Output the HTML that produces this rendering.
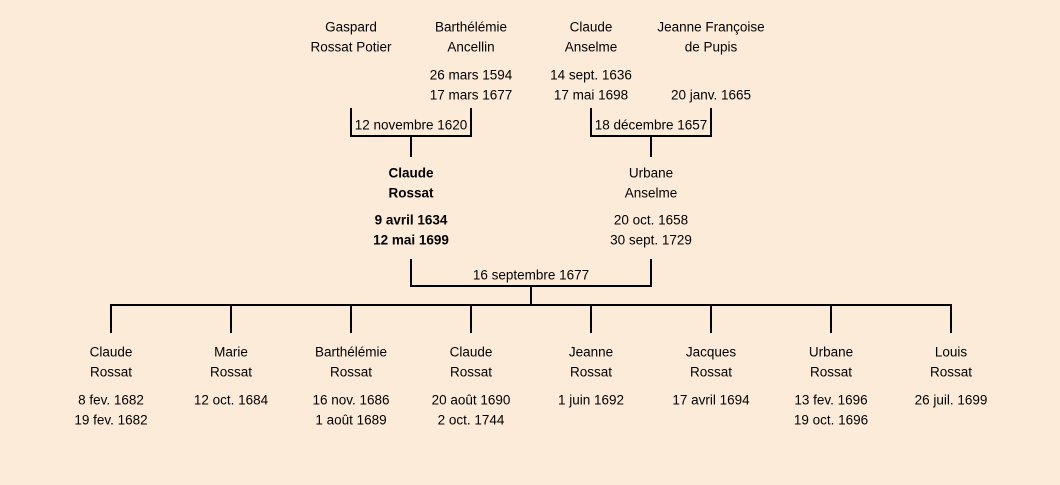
<!DOCTYPE html>
<html><head><meta charset="utf-8"><style>
html,body{margin:0;padding:0;background:#fcebd9;}
svg{display:block;}
text{font-family:"Liberation Sans","DejaVu Sans",sans-serif;font-size:13.5px;fill:#000;text-anchor:middle;dominant-baseline:central;}
.b{font-weight:bold;}
</style></head><body>
<svg width="1060" height="485" viewBox="0 0 1060 485">
<rect width="1060" height="485" fill="#fcebd9"/>
<g stroke="#000" stroke-width="2" fill="none">
<path d="M351 108V136H471V108M411 136V157"/>
<path d="M591 108V136H711V108M651 136V157"/>
<path d="M411 259V286H651V259M531 286V305"/>
<path d="M111 333V305H951V333M231 305V333M351 305V333M471 305V333M591 305V333M711 305V333M831 305V333"/>
</g>
<text x="351" y="27">Gaspard</text><text x="351" y="47">Rossat Potier</text>
<text x="471" y="27">Barthélémie</text><text x="471" y="47">Ancellin</text>
<text x="471" y="75">26 mars 1594</text><text x="471" y="95">17 mars 1677</text>
<text x="591" y="27">Claude</text><text x="591" y="47">Anselme</text>
<text x="591" y="75">14 sept. 1636</text><text x="591" y="95">17 mai 1698</text>
<text x="711" y="27">Jeanne Françoise</text><text x="711" y="47">de Pupis</text>
<text x="711" y="95">20 janv. 1665</text>
<text x="411" y="125">12 novembre 1620</text>
<text x="651" y="125">18 décembre 1657</text>
<text class="b" x="411" y="173">Claude</text><text class="b" x="411" y="193">Rossat</text>
<text class="b" x="411" y="220">9 avril 1634</text><text class="b" x="411" y="240">12 mai 1699</text>
<text x="651" y="173">Urbane</text><text x="651" y="193">Anselme</text>
<text x="651" y="220">20 oct. 1658</text><text x="651" y="240">30 sept. 1729</text>
<text x="531" y="275">16 septembre 1677</text>
<text x="111" y="352">Claude</text><text x="111" y="372">Rossat</text><text x="111" y="400">8 fev. 1682</text><text x="111" y="420">19 fev. 1682</text>
<text x="231" y="352">Marie</text><text x="231" y="372">Rossat</text><text x="231" y="400">12 oct. 1684</text>
<text x="351" y="352">Barthélémie</text><text x="351" y="372">Rossat</text><text x="351" y="400">16 nov. 1686</text><text x="351" y="420">1 août 1689</text>
<text x="471" y="352">Claude</text><text x="471" y="372">Rossat</text><text x="471" y="400">20 août 1690</text><text x="471" y="420">2 oct. 1744</text>
<text x="591" y="352">Jeanne</text><text x="591" y="372">Rossat</text><text x="591" y="400">1 juin 1692</text>
<text x="711" y="352">Jacques</text><text x="711" y="372">Rossat</text><text x="711" y="400">17 avril 1694</text>
<text x="831" y="352">Urbane</text><text x="831" y="372">Rossat</text><text x="831" y="400">13 fev. 1696</text><text x="831" y="420">19 oct. 1696</text>
<text x="951" y="352">Louis</text><text x="951" y="372">Rossat</text><text x="951" y="400">26 juil. 1699</text>
</svg>
</body></html>
